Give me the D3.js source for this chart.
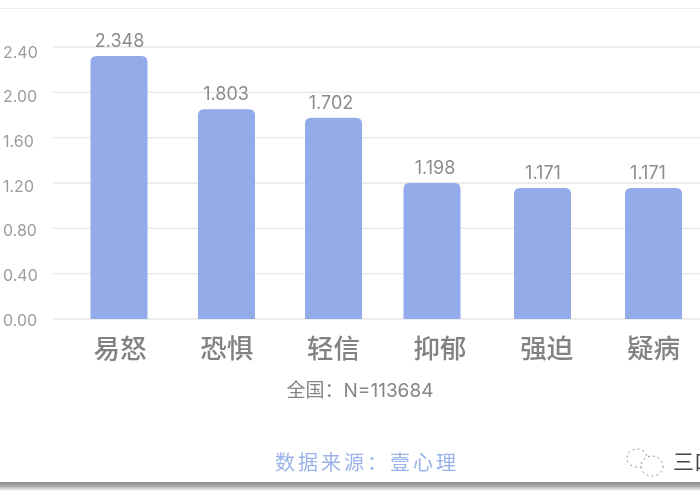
<!DOCTYPE html>
<html>
<head>
<meta charset="utf-8">
<script src="https://cdn.jsdelivr.net/npm/d3@7"></script>
<style>
  html, body { margin: 0; padding: 0; background: #fff; }
  svg { display: block; }
</style>
</head>
<body>
<script>
const categories = ['易怒', '恐惧', '轻信', '抑郁', '强迫', '疑病'];
// bar heights, they differ a little from the printed labels
const barValues = [2.32, 1.85, 1.775, 1.2, 1.155, 1.155];
const valueLabels = ['2.348', '1.803', '1.702', '1.198', '1.171', '1.171'];
const yTicks = [0, 0.4, 0.8, 1.2, 1.6, 2.0, 2.4];
const noteText = '全国：N=113684';
const sourceText = '数据来源：壹心理';
const markText = '三口';

const width = 700;
const height = 500;
const margin = {top: 47, bottom: 181, left: 53, right: 0};
const latin = 'Inter, "Noto Sans CJK SC", sans-serif';
const cjk = '"Noto Sans CJK SC", sans-serif';

const svg = d3.select('body').append('svg')
    .attr('width', width)
    .attr('height', height);

const defs = svg.append('defs');

// the source is a blurry screenshot
defs.append('filter').attr('id', 'soft')
    .append('feGaussianBlur').attr('stdDeviation', 0.7);

// shadow under the page
const shade = defs.append('linearGradient')
    .attr('id', 'shade')
    .attr('x1', 0).attr('x2', 0).attr('y1', 0).attr('y2', 1);
shade.append('stop').attr('offset', 0).attr('stop-color', '#8a8a8a');
shade.append('stop').attr('offset', 0.45).attr('stop-color', '#a8a8a8');
shade.append('stop').attr('offset', 1).attr('stop-color', '#ffffff');

const chart = svg.append('g').attr('filter', 'url(#soft)');

const yScale = d3.scaleLinear()
    .domain([0, 2.4])
    .range([height - margin.bottom, margin.top]);

// tick labels drift away from the grid lines as they go up
const tickScale = d3.scaleLinear()
    .domain([0, 2.4])
    .range([height - margin.bottom, 51]);

// the labels sit on an even step
const xScale = d3.scalePoint()
    .domain(categories)
    .range([119.5, 653]);

// the bars do not: 抑郁 and 强迫 are pushed left of their labels
const barX = d3.scaleOrdinal()
    .domain(categories)
    .range([119, 226.5, 333.5, 432, 542.5, 653.5]);
const labelX = d3.scaleOrdinal()
    .domain(categories)
    .range([119.5, 226, 331, 435, 543, 648]);
const barWidth = 57;

// page edges
chart.append('line')
    .attr('x1', 0).attr('x2', width)
    .attr('y1', 8.5).attr('y2', 8.5)
    .attr('stroke', '#ececec');
svg.append('rect')
    .attr('x', 0).attr('y', 482)
    .attr('width', width).attr('height', 9)
    .attr('fill', 'url(#shade)');

// grid lines
chart.selectAll('.grid')
    .data(yTicks)
    .join('line')
    .attr('class', 'grid')
    .attr('x1', margin.left).attr('x2', width)
    .attr('y1', d => yScale(d)).attr('y2', d => yScale(d))
    .attr('stroke', '#e6e6e6')
    .attr('stroke-width', 1.4);

const yAxis = d3.axisLeft(tickScale)
    .tickValues(yTicks)
    .tickFormat(d3.format('.2f'))
    .tickSize(0)
    .tickPadding(0);

const yAxisG = chart.append('g')
    .attr('transform', 'translate(3,0)')
    .call(yAxis);
yAxisG.select('.domain').remove();
yAxisG.selectAll('text')
    .attr('text-anchor', 'start')
    .attr('x', 0)
    .attr('y', 6)
    .attr('dy', 0)
    .attr('font-family', latin)
    .attr('font-size', 16)
    .attr('fill', '#9c9c9c');

const xAxis = d3.axisBottom(xScale).tickSize(0).tickPadding(0);
const xAxisG = chart.append('g')
    .attr('transform', `translate(0,${yScale(0)})`)
    .call(xAxis);
xAxisG.select('.domain').remove();
xAxisG.selectAll('text')
    .attr('y', 39)
    .attr('dy', 0)
    .attr('font-family', cjk)
    .attr('font-size', 26.5)
    .attr('font-weight', 500)
    .attr('fill', '#828282');

// rounded on top, square on the base line
const barPath = (d, i) => {
    const x0 = barX(categories[i]) - barWidth / 2;
    const x1 = x0 + barWidth;
    const y0 = yScale(0);
    const y1 = yScale(d);
    const r = 6;
    return `M${x0},${y0}V${y1 + r}Q${x0},${y1} ${x0 + r},${y1}H${x1 - r}Q${x1},${y1} ${x1},${y1 + r}V${y0}Z`;
};

chart.selectAll('.bar')
    .data(barValues)
    .join('path')
    .attr('class', 'bar')
    .attr('d', barPath)
    .attr('fill', '#93abe9');

chart.selectAll('.value')
    .data(valueLabels)
    .join('text')
    .attr('class', 'value')
    .attr('x', (d, i) => labelX(categories[i]))
    .attr('y', (d, i) => yScale(barValues[i]) - 9)
    .attr('text-anchor', 'middle')
    .attr('font-family', latin)
    .attr('font-size', 18)
    .attr('fill', '#8c8c8c')
    .text(d => d);

chart.append('text')
    .attr('x', 360).attr('y', 397)
    .attr('text-anchor', 'middle')
    .attr('font-family', latin)
    .attr('font-size', 19)
    .attr('fill', '#858585')
    .text(noteText);

chart.append('text')
    .attr('x', 367).attr('y', 470)
    .attr('text-anchor', 'middle')
    .attr('font-family', cjk)
    .attr('font-size', 20)
    .attr('letter-spacing', 3)
    .attr('fill', '#9ab3ea')
    .text(sourceText);

chart.append('text')
    .attr('x', 673).attr('y', 469)
    .attr('font-family', cjk)
    .attr('font-size', 21)
    .attr('fill', '#444')
    .text(markText);

// watermark bubbles
const mark = chart.append('g')
    .attr('stroke', '#8a8a8a')
    .attr('stroke-width', 1)
    .attr('stroke-dasharray', '2 3');
mark.append('ellipse').attr('cx', 637).attr('cy', 458)
    .attr('rx', 10).attr('ry', 9).attr('fill', 'none');
mark.append('ellipse').attr('cx', 652).attr('cy', 466)
    .attr('rx', 11).attr('ry', 10).attr('fill', '#fff');
</script>
</body>
</html>
